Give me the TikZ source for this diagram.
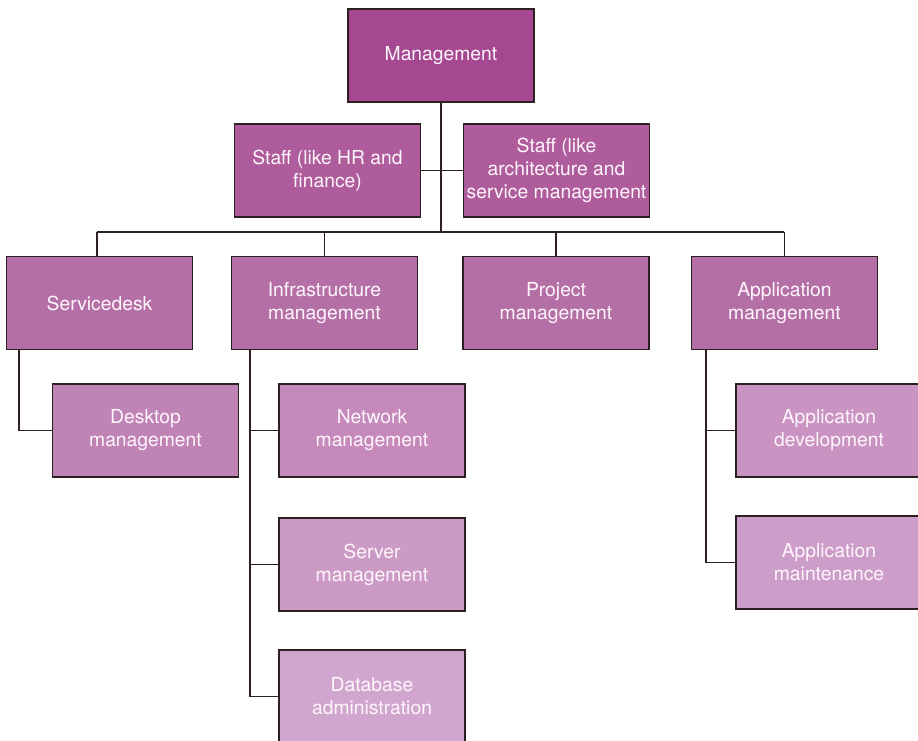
\documentclass[tikz,border=0pt]{standalone}
\usepackage{fontspec}
\setmainfont{TeX Gyre Heros}
\definecolor{cA}{RGB}{165,71,145}
\definecolor{cB}{RGB}{174,92,156}
\definecolor{cC}{RGB}{180,112,166}
\definecolor{cD}{RGB}{192,131,182}
\definecolor{cE}{RGB}{197,138,187}
\definecolor{cF}{RGB}{203,155,198}
\definecolor{cG}{RGB}{209,166,206}
\definecolor{cH}{RGB}{201,148,194}
\definecolor{cI}{RGB}{205,157,201}
\definecolor{edge}{RGB}{45,32,32}
\definecolor{txt}{RGB}{255,246,252}
\tikzset{
  orgbox/.style={draw=edge, line width=1.4pt, minimum width=186pt, minimum height=93pt,
    inner sep=0pt, align=center, text=txt,
    font=\fontsize{19.3}{23}\selectfont},
  link/.style={draw=edge, line width=1.8pt}
}
\begin{document}
\begin{tikzpicture}[x=1pt,y=-1pt]
\useasboundingbox (0,0) rectangle (918,740);
\node[orgbox, fill=cA] (mgmt) at (441,55.5) {Management};
\node[orgbox, fill=cB] (staffL) at (327.5,170.5) {Staff (like HR and\\finance)};
\node[orgbox, fill=cB] (staffR) at (556.5,170.5) {Staff (like\\architecture and\\service management};
\node[orgbox, fill=cC] (svc) at (99.5,303) {Servicedesk};
\node[orgbox, fill=cC] (infra) at (324.5,303) {Infrastructure\\management};
\node[orgbox, fill=cC] (proj) at (556,303) {Project\\management};
\node[orgbox, fill=cC] (app) at (784.5,303) {Application\\management};
\node[orgbox, fill=cD] (desk) at (145.5,430.5) {Desktop\\management};
\node[orgbox, fill=cE] (net) at (372,430.5) {Network\\management};
\node[orgbox, fill=cF] (server) at (372,564.5) {Server\\management};
\node[orgbox, fill=cG] (db) at (372,696.5) {Database\\administration};
\node[orgbox, fill=cH] (appdev) at (829,430.5) {Application\\development};
\node[orgbox, fill=cI] (appmaint) at (829,562.5) {Application\\maintenance};

\coordinate (busL) at (97,232);
\coordinate (busR) at (784,232);
\coordinate (hub) at (441,232);
\draw[link] (mgmt.south) -- (hub);
\draw[link] (staffL.east) -- (staffR.west);
\draw[link] (busL) -- (busR);
\draw[link] (busL) -- (busL |- svc.north);
\draw[link] (infra.north) -- (infra.north |- hub);
\draw[link] (proj.north) -- (proj.north |- hub);
\draw[link] (app.north) -- (app.north |- hub);

\coordinate (svcdrop) at ([xshift=13pt]svc.south west);
\draw[link] (svcdrop) |- (desk.west);
\coordinate (infdrop) at ([xshift=19pt]infra.south west);
\draw[link] (infdrop) |- (db.west);
\draw[link] (net.west) -- (net.west -| infdrop);
\draw[link] (server.west) -- (server.west -| infdrop);
\coordinate (appdrop) at ([xshift=15pt]app.south west);
\draw[link] (appdrop) |- (appmaint.west);
\draw[link] (appdev.west) -- (appdev.west -| appdrop);
\end{tikzpicture}
\end{document}
